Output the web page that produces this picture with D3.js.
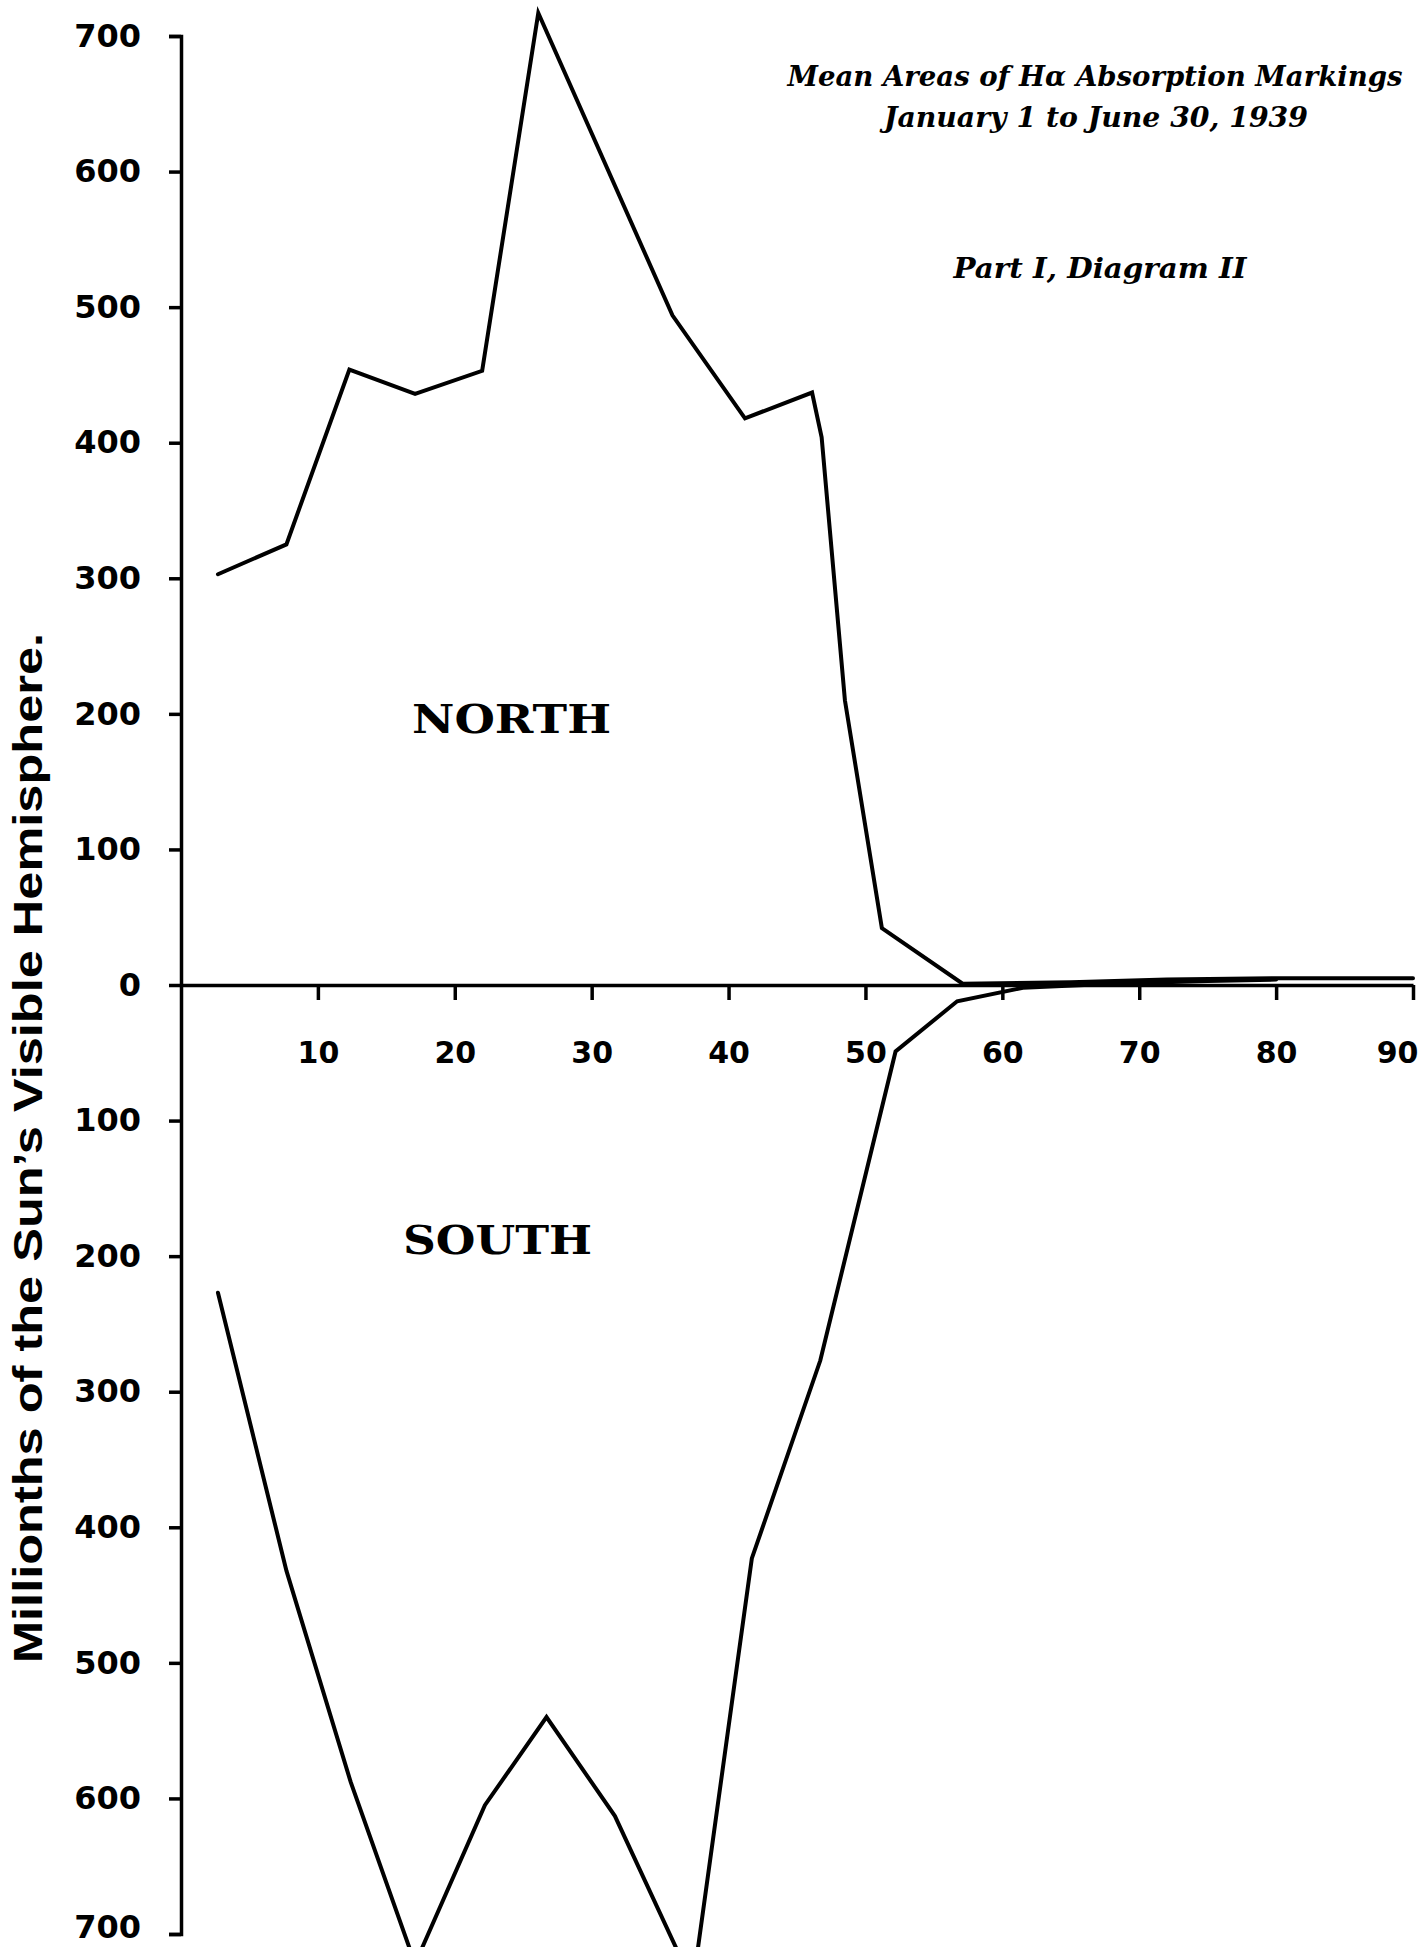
<!DOCTYPE html>
<html>
<head>
<meta charset="utf-8">
<script src="https://cdn.jsdelivr.net/npm/d3@7/dist/d3.min.js"></script>
<style>
  html, body { margin: 0; padding: 0; background: #fff; }
  svg { display: block; }
</style>
</head>
<body>
<svg id="chart" width="1420" height="1947"></svg>
<script>
// ---- Data (latitude in degrees, mean area in millionths of the visible hemisphere) ----
const northLat  = [2.7, 7.7, 12.3, 17.1, 22.0, 26.1, 35.9, 41.2, 46.1, 46.8, 48.5, 51.2, 57.1, 65, 72, 80, 90];
const northArea = [303, 325, 454, 436, 453, 717, 494, 418, 437, 404, 210, 42, 1, 2, 4, 5, 5];

const southLat  = [2.7, 7.7, 12.4, 17.1, 22.2, 26.7, 31.7, 37.4, 41.7, 46.7, 52.2, 56.7, 61.5, 68, 75, 80];
const southArea = [227, 432, 588, 722, 605, 540, 613, 737, 423, 277, 49, 12, 2, -1, -3, -4];

const yTickValues = [700, 600, 500, 400, 300, 200, 100, 0, -100, -200, -300, -400, -500, -600, -700];
const xTickValues = [10, 20, 30, 40, 50, 60, 70, 80, 90];

const titleLines = ["Mean Areas of H\u03B1 Absorption Markings", "January 1 to June 30, 1939"];
const subTitle = "Part I, Diagram II";
const yAxisTitle = "Millionths of the Sun\u2019s Visible Hemisphere.";
const hemiLabels = ["NORTH", "SOUTH"];

// ---- Layout ----
const svg = d3.select("#chart");
svg.append("rect").attr("width", 1420).attr("height", 1947).attr("fill", "#fff");

const x = d3.scaleLinear().domain([0, 90]).range([181, 1413]);
const y = d3.scaleLinear().domain([-700, 700]).range([1934, 36]);

const ink = "#000";

// Y axis
const yAxis = d3.axisLeft(y)
  .tickValues(yTickValues)
  .tickSize(12)
  .tickSizeOuter(12)
  .tickPadding(28)
  .tickFormat(d => String(Math.abs(d)));

const gy = svg.append("g").attr("transform", `translate(${x(0)},0)`).call(yAxis);
gy.select(".domain").attr("stroke", ink).attr("stroke-width", 3.5).attr("fill", "none");
gy.selectAll(".tick line").attr("stroke", ink).attr("stroke-width", 3.5);
gy.selectAll(".tick text")
  .attr("fill", ink)
  .style("font-family", "'DejaVu Sans', sans-serif")
  .style("font-weight", "bold")
  .style("font-size", "32px");
// keep the lowest label inside the picture
gy.selectAll(".tick text").filter(d => d === -700).attr("dy", "0.1em");

// X axis along zero line
const xAxis = d3.axisBottom(x)
  .tickValues(xTickValues)
  .tickSize(15)
  .tickSizeOuter(0)
  .tickPadding(42);

const gx = svg.append("g").attr("transform", `translate(0,${y(0)})`).call(xAxis);
gx.select(".domain").attr("stroke", ink).attr("stroke-width", 3.5).attr("fill", "none");
gx.selectAll(".tick line").attr("stroke", ink).attr("stroke-width", 3.5);
gx.selectAll(".tick text")
  .attr("fill", ink)
  .style("font-family", "'DejaVu Sans', sans-serif")
  .style("font-weight", "bold")
  .style("font-size", "30px");
// last label sits left of its tick, as in the original
gx.selectAll(".tick text").filter(d => d === 90).attr("text-anchor", "end").attr("dx", 5);

// Lines
const northData = northLat.map((d, i) => [d, northArea[i]]);
const southData = southLat.map((d, i) => [d, -southArea[i]]);

const line = d3.line().x(d => x(d[0])).y(d => y(d[1]));

svg.append("path").datum(northData)
  .attr("d", line)
  .attr("fill", "none").attr("stroke", ink)
  .attr("stroke-width", 4).attr("stroke-linejoin", "miter").attr("stroke-linecap", "round");

svg.append("path").datum(southData)
  .attr("d", line)
  .attr("fill", "none").attr("stroke", ink)
  .attr("stroke-width", 4).attr("stroke-linejoin", "miter").attr("stroke-linecap", "round");

// Y axis title
svg.append("text")
  .attr("transform", "translate(42,1148) rotate(-90)")
  .attr("text-anchor", "middle")
  .attr("fill", ink)
  .attr("textLength", 1030)
  .attr("lengthAdjust", "spacingAndGlyphs")
  .style("font-family", "'Liberation Sans', Arial, sans-serif")
  .style("font-weight", "bold")
  .style("font-size", "40px")
  .text(yAxisTitle);

// Titles
const titleFont = "'DejaVu Serif', 'Liberation Serif', serif";
svg.append("text")
  .attr("x", 1095).attr("y", 86)
  .attr("text-anchor", "middle")
  .attr("textLength", 615).attr("lengthAdjust", "spacingAndGlyphs")
  .style("font-family", titleFont).style("font-style", "italic").style("font-weight", "bold")
  .style("font-size", "28px").attr("fill", ink)
  .text(titleLines[0]);
svg.append("text")
  .attr("x", 1096).attr("y", 127)
  .attr("text-anchor", "middle")
  .attr("textLength", 424).attr("lengthAdjust", "spacingAndGlyphs")
  .style("font-family", titleFont).style("font-style", "italic").style("font-weight", "bold")
  .style("font-size", "28px").attr("fill", ink)
  .text(titleLines[1]);
svg.append("text")
  .attr("x", 1100).attr("y", 278)
  .attr("text-anchor", "middle")
  .attr("textLength", 293).attr("lengthAdjust", "spacingAndGlyphs")
  .style("font-family", titleFont).style("font-style", "italic").style("font-weight", "bold")
  .style("font-size", "28px").attr("fill", ink)
  .text(subTitle);

// Hemisphere labels
const hemiFont = "'DejaVu Serif', 'Liberation Serif', serif";
svg.append("text")
  .attr("x", 412).attr("y", 733)
  .attr("textLength", 199).attr("lengthAdjust", "spacingAndGlyphs")
  .style("font-family", hemiFont).style("font-weight", "bold")
  .style("font-size", "40px").attr("fill", ink)
  .text(hemiLabels[0]);
svg.append("text")
  .attr("x", 403).attr("y", 1254)
  .attr("textLength", 189).attr("lengthAdjust", "spacingAndGlyphs")
  .style("font-family", hemiFont).style("font-weight", "bold")
  .style("font-size", "40px").attr("fill", ink)
  .text(hemiLabels[1]);
</script>
</body>
</html>
